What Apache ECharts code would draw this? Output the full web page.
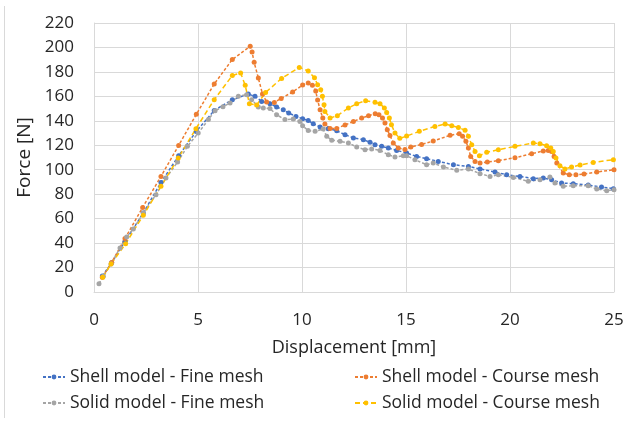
<!DOCTYPE html>
<html>
<head>
<meta charset="utf-8">
<script src="https://cdn.jsdelivr.net/npm/echarts@6/dist/echarts.min.js"></script>
<style>
  html, body { margin: 0; padding: 0; background: #fff; }
  #chart { width: 628px; height: 421px; }
</style>
</head>
<body>
<div id="chart"></div>
<script>
// values: [displacement mm, force N]
var shellFine = [[0.4,13],[0.85,24],[1.49,41.4],[2.37,64.6],[3.22,89.6],[4.07,111.5],[4.92,131.4],
    [5.78,148.5],[6.65,157.3],[7.42,161.9],[7.74,160],[8.06,155.9],[8.46,154],[8.78,151.3],[9.1,149],
    [9.36,146.4],[9.71,143.6],[10.03,141.7],[10.3,140.3],[10.54,137.6],[10.87,135],[11.26,133.6],
    [11.67,131.9],[12.07,128.6],[12.47,126],[12.95,124.6],[13.27,122.4],[13.51,120.5],[13.83,119.1],
    [14.15,117.8],[14.55,115.8],[15.03,113.7],[15.51,110.9],[15.99,109],[16.55,106.8],[17.28,104.1],
    [18.0,102.7],[18.56,100.6],[19.28,98.1],[19.84,95.9],[20.48,94.5],[21.12,92.7],[21.6,93.2],
    [22.0,91.8],[22.48,89.1],[23.04,88.6],[23.76,87.5],[24.4,85.9],[24.97,84.5]];

var shellCourse = [[0.4,12],[0.85,24.2],[1.49,43.8],[2.34,69.2],[3.22,94.5],[4.07,119.9],[4.92,145.3],
    [5.78,170.1],[6.65,190.2],[7.51,200.9],[7.6,196.3],[7.7,187.8],[7.9,175],[8.1,162],[8.3,155.4],
    [8.67,155],[9.0,158.3],[9.55,163.6],[10.03,169.3],[10.3,171],[10.5,169],[10.66,164.4],[10.75,157],
    [10.87,149],[11.0,142.3],[11.1,137.4],[11.35,133.8],[11.67,133.8],[12.07,136.6],[12.47,139.5],
    [12.87,142.3],[13.2,144.2],[13.52,145.8],[13.7,145],[13.87,142.3],[13.99,138.2],[14.1,132.7],
    [14.23,128],[14.39,121.9],[14.63,117.8],[14.95,116.6],[15.23,118.6],[15.75,120.7],[16.31,123.5],
    [17.12,128.1],[17.56,129.5],[17.72,127.3],[17.88,123.2],[18.0,117.8],[18.11,110.9],[18.32,106.8],
    [18.56,105.5],[18.91,106.3],[19.44,107.4],[20.24,109.8],[21.04,113.1],[21.6,115.3],[21.84,115.8],
    [22.0,115],[22.12,110.9],[22.25,105.5],[22.56,97.3],[22.85,95.9],[23.17,95.9],[23.56,96.5],
    [24.17,98.1],[25.0,100]];

var solidFine = [[0.24,6.8],[0.45,12.8],[0.82,23],[1.25,36],[1.57,45],[1.89,51.5],[2.37,64.6],
    [2.98,79.6],[3.46,93.2],[4.02,106.3],[4.49,119.1],[5.01,130],[5.5,141],[5.82,148.3],[6.2,151.5],
    [6.54,154.6],[6.94,160],[7.34,161.4],[7.58,157.3],[7.9,151.3],[8.14,150.5],[8.46,150],[8.78,145],
    [9.18,141],[9.58,141.5],[9.9,139.5],[10.03,136],[10.3,132],[10.63,131.4],[11.02,133.3],
    [11.19,127.3],[11.43,124.2],[11.83,123.2],[12.23,121.9],[12.63,118.6],[13.03,116.4],[13.35,117],
    [13.75,115.8],[14.15,112.3],[14.47,110.4],[14.87,111.5],[15.03,111.5],[15.43,108.2],[15.99,104.1],
    [16.31,105.5],[16.8,102.2],[17.44,99.5],[18.0,100.6],[18.56,96.8],[19.04,94.5],[19.44,95.9],
    [20.16,93.7],[20.88,90.5],[21.44,91.8],[21.92,94],[22.16,89.1],[22.56,86.4],[23.04,86.9],
    [23.76,86.9],[24.17,84.2],[24.65,82.8],[25.0,83.7]];

var solidCourse = [[0.42,12],[0.82,22.9],[1.52,39.5],[2.37,62.7],[3.22,86.4],[4.05,109.6],[4.9,133.6],
    [5.78,157.3],[6.65,177],[7.05,179.1],[7.27,169],[7.47,154],[7.82,152.9],[8.25,163.2],[9.02,174.7],
    [9.87,183.7],[10.3,180.7],[10.6,175.2],[10.75,169.5],[10.9,165.4],[10.98,160],[11.06,153.2],
    [11.1,147.7],[11.35,142.3],[11.7,144.2],[12.23,150.5],[12.63,154],[13.06,156.5],[13.51,155.1],
    [13.75,154],[13.96,150.5],[14.07,146.9],[14.2,142.3],[14.3,136.8],[14.47,130],[14.7,125.7],
    [15.03,127.5],[15.64,131.4],[16.39,135.4],[16.88,137.4],[17.2,136],[17.52,134.6],[17.84,132.2],
    [18.0,127.3],[18.16,120.5],[18.32,115],[18.53,111.5],[18.88,114.2],[19.44,116.4],[20.24,119.1],
    [21.12,121.9],[21.44,121.3],[21.76,119.6],[21.96,117.8],[22.08,115],[22.21,109.6],[22.4,103.3],
    [22.64,100.6],[22.96,102.2],[23.37,103.9],[24.0,106],[24.97,108.2]];

var seriesNames = ['Shell model - Fine mesh', 'Shell model - Course mesh',
    'Solid model - Fine mesh', 'Solid model - Course mesh'];
var seriesColors = ['#4472C4', '#ED7D31', '#A5A5A5', '#FFC000'];
var seriesData = [shellFine, shellCourse, solidFine, solidCourse];
var dashes = [[3, 2], [3, 2], [3, 2], [5, 3]];

var font = 'Open Sans';
var gridColor = '#d9d9d9';
var textColor = '#262626';

var chart = echarts.init(document.getElementById('chart'));

var series = seriesData.map(function(data, i){
    return {
        name: seriesNames[i],
        type: 'line',
        data: data,
        symbol: 'circle',
        symbolSize: 5,
        showSymbol: true,
        animation: false,
        itemStyle: {color: seriesColors[i]},
        lineStyle: {color: seriesColors[i], width: 1.5, type: dashes[i]},
        emphasis: {disabled: true}
    };
});

// legend: two columns, two rows (one legend per entry)
var legendLeft = [42, 354, 42, 354];
var legendTop = [368, 368, 394, 394];
var legends = seriesNames.map(function(name, i){
    return {
        data: [name], orient: 'horizontal', left: legendLeft[i], top: legendTop[i],
        itemWidth: 22, itemHeight: 6, padding: 0, selectedMode: false,
        textStyle: {fontFamily: font, fontSize: 17.5, color: textColor}
    };
});

chart.setOption({
    animation: false,
    textStyle: {fontFamily: font},
    grid: {left: 94, right: 14, top: 23, bottom: 129, containLabel: false},
    xAxis: {
        type: 'value', min: 0, max: 25, interval: 5,
        name: 'Displacement [mm]', nameLocation: 'middle', nameGap: 47,
        nameTextStyle: {fontFamily: font, fontSize: 18, color: textColor},
        axisLine: {show: true, lineStyle: {color: gridColor}},
        axisTick: {show: false},
        axisLabel: {fontFamily: font, fontSize: 17, color: textColor, margin: 20},
        splitLine: {show: true, lineStyle: {color: gridColor, width: 1}}
    },
    yAxis: {
        type: 'value', min: 0, max: 220, interval: 20,
        name: 'Force [N]', nameLocation: 'middle', nameGap: 56,
        nameTextStyle: {fontFamily: font, fontSize: 19, color: textColor},
        axisLine: {show: true, lineStyle: {color: gridColor}},
        axisTick: {show: false},
        axisLabel: {fontFamily: font, fontSize: 17, color: textColor, margin: 20},
        splitLine: {show: true, lineStyle: {color: gridColor, width: 1}}
    },
    legend: legends,
    graphic: [{
        type: 'line', shape: {x1: 4.5, y1: 6, x2: 4.5, y2: 418},
        style: {stroke: gridColor, lineWidth: 1}, silent: true
    }],
    series: series
});
</script>
</body>
</html>
